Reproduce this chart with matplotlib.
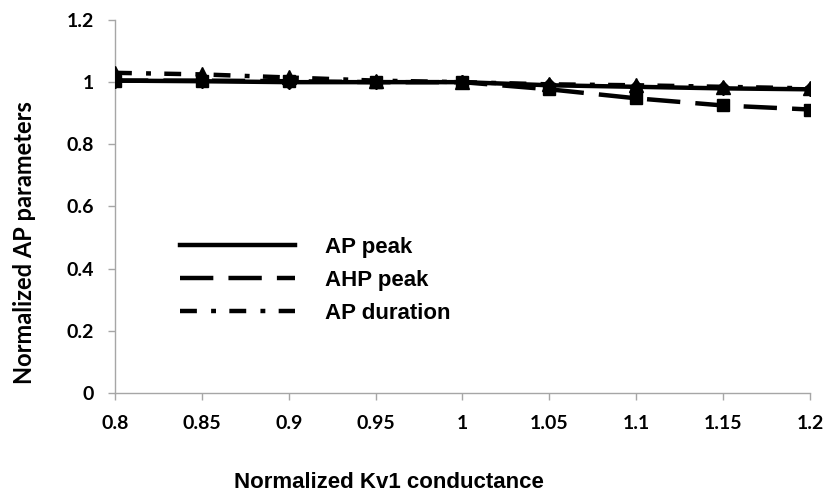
import matplotlib
matplotlib.use("Agg")
import matplotlib.pyplot as plt

conductance = ["0.8", "0.85", "0.9", "0.95", "1", "1.05", "1.1", "1.15", "1.2"]
ap_peak = [1.005, 1.003, 1.0, 1.0, 1.0, 0.99, 0.985, 0.98, 0.977]
ahp_peak = [1.005, 1.005, 1.003, 1.0, 1.0, 0.977, 0.948, 0.925, 0.912]
ap_duration = [1.03, 1.025, 1.015, 1.005, 1.0, 0.993, 0.99, 0.985, 0.98]
y_ticks = [0, 0.2, 0.4, 0.6, 0.8, 1, 1.2]
series_names = ["AP peak", "AHP peak", "AP duration"]

fig = plt.figure(figsize=(8.27, 4.96), dpi=100, facecolor="white")
ax = fig.add_axes([0.139, 0.2077, 0.8404, 0.752])

x = list(range(len(conductance)))
lw = 3.2
dashed = (0, (7.5, 3.4))
dashdot = (0, (3.8, 3.2, 1.1, 3.0))

ax.plot(x, ahp_peak, color="black", lw=lw, linestyle=dashed,
        marker="s", markersize=9, zorder=3)
ax.plot(x, ap_duration, color="black", lw=lw, linestyle=dashdot,
        marker="^", markersize=10, zorder=4)
ax.plot(x, ap_peak, color="black", lw=lw, linestyle="-",
        marker="D", markersize=7, zorder=5)

ax.set_xlim(0, len(conductance) - 1)
ax.set_ylim(0, 1.2)
ax.set_yticks(y_ticks)
ax.set_yticklabels([f"{v:g}" for v in y_ticks])
ax.set_xticks(x)
ax.set_xticklabels(conductance)

for side in ["top", "right"]:
    ax.spines[side].set_visible(False)
for side in ["left", "bottom"]:
    ax.spines[side].set_color("#a6a6a6")
    ax.spines[side].set_linewidth(1)

ax.tick_params(axis="both", colors="#a6a6a6", length=5, width=1)
ax.tick_params(axis="y", labelcolor="black", pad=10)
ax.tick_params(axis="x", labelcolor="black", pad=11)

for lab in ax.get_yticklabels() + ax.get_xticklabels():
    lab.set_fontfamily("Lato")
    lab.set_fontweight("bold")
    lab.set_fontsize(14)

ax.set_ylabel("Normalized AP parameters", fontfamily="Lato",
              fontweight="bold", fontsize=17, va="center")
ax.yaxis.set_label_coords(-0.1295, 0.402)
ax.set_xlabel("Normalized Kv1 conductance", fontfamily="Liberation Sans",
              fontweight="bold", fontsize=16, va="center")
ax.xaxis.set_label_coords(0.394, -0.239)

# legend drawn without markers, like the original
handles = [
    plt.Line2D([], [], color="black", lw=lw, linestyle="-"),
    plt.Line2D([], [], color="black", lw=lw, linestyle=dashed),
    plt.Line2D([], [], color="black", lw=lw, linestyle=dashdot),
]
ax.legend(handles, series_names,
          loc="upper left", bbox_to_anchor=(0.0935, 0.419), frameon=False,
          borderpad=0, borderaxespad=0,
          handlelength=5.2, handletextpad=1.35, labelspacing=0.55,
          prop={"family": "Liberation Sans", "weight": "bold", "size": 16})

fig.savefig("out.png", dpi=100, facecolor="white")
